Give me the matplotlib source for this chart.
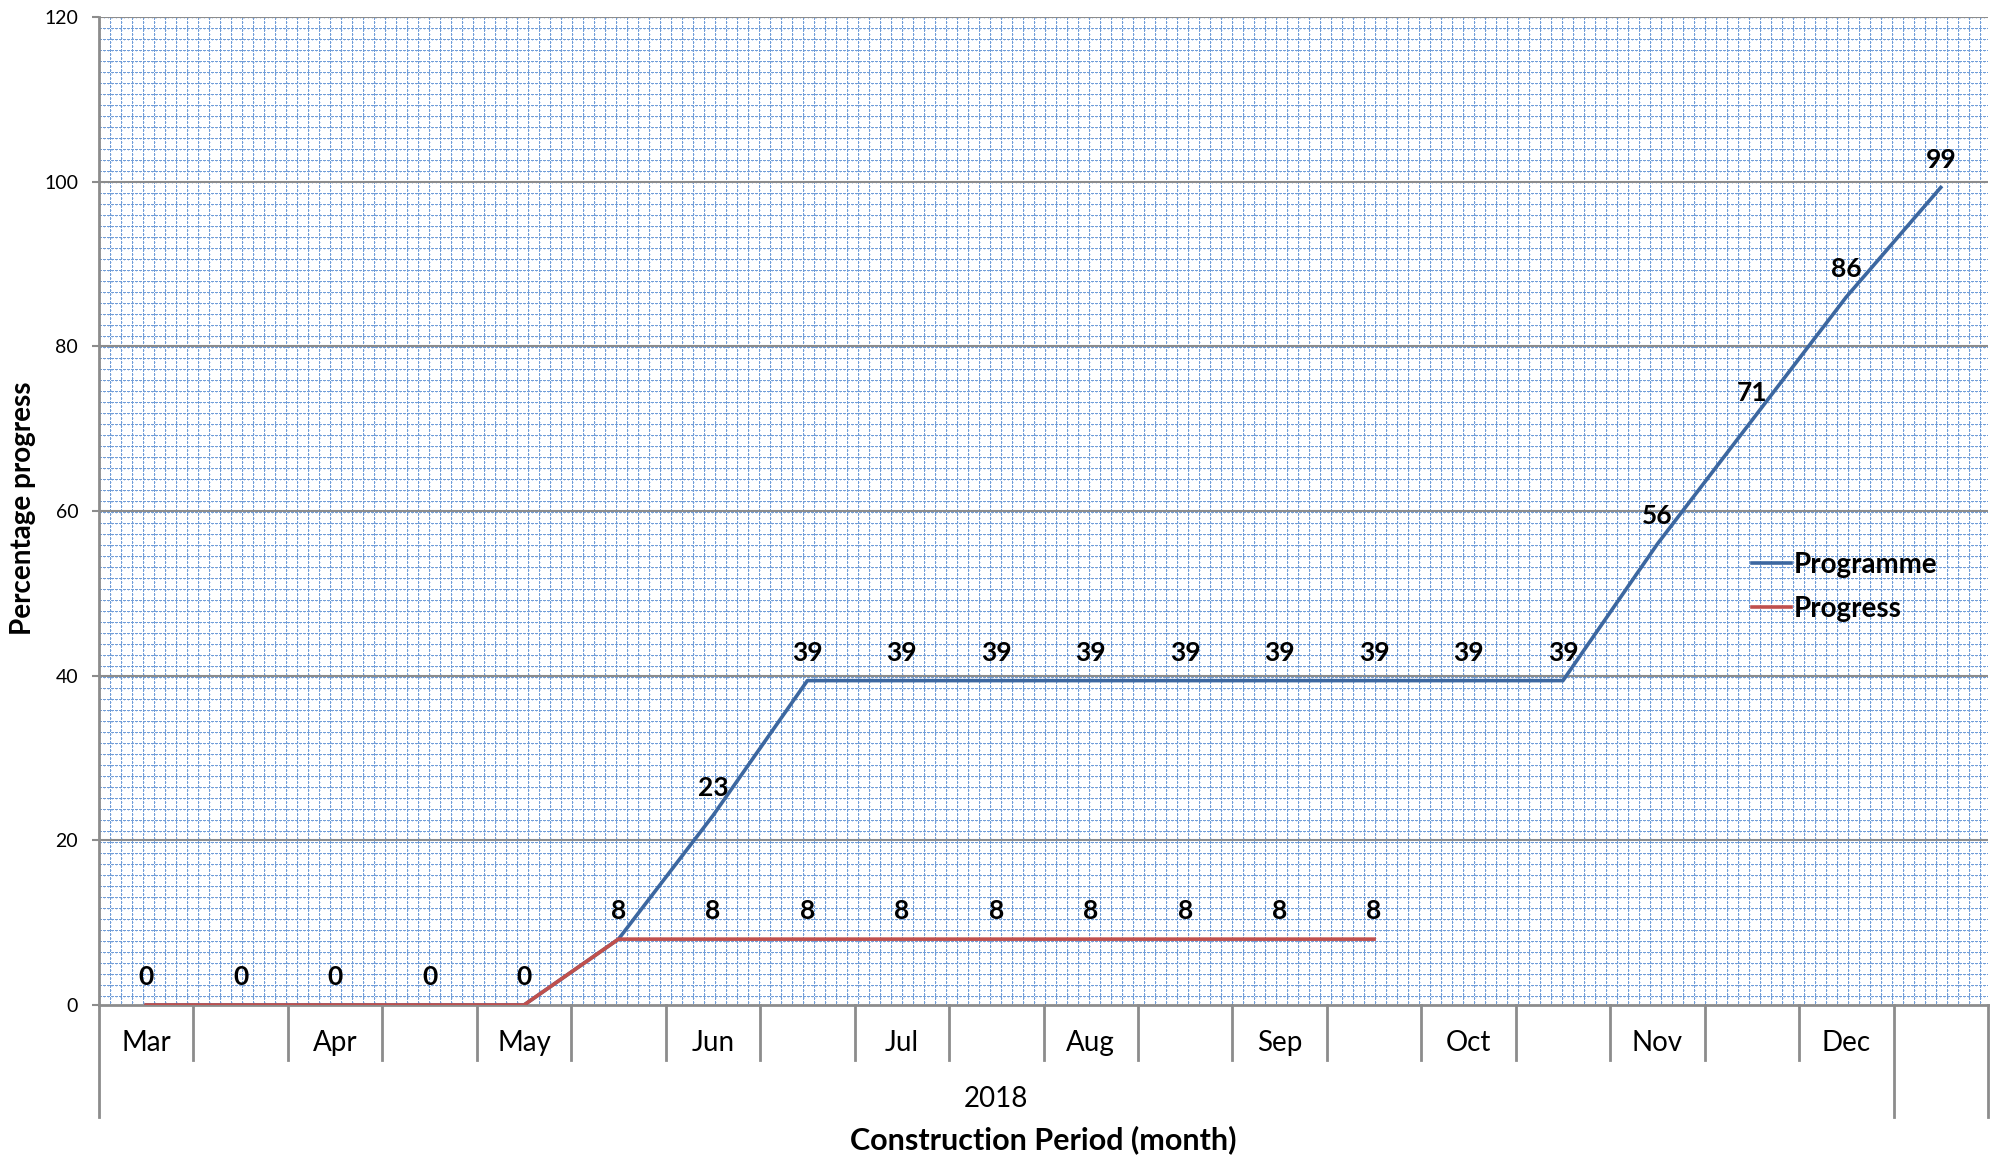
import numpy as np
import matplotlib
matplotlib.use('Agg')
import matplotlib.pyplot as plt
import matplotlib.transforms as mtransforms

plt.rcParams['font.family'] = ['Lato', 'DejaVu Sans']

# data
months = ['Mar', '', 'Apr', '', 'May', '', 'Jun', '', 'Jul', '', 'Aug', '', 'Sep', '', 'Oct', '', 'Nov', '', 'Dec', '']
year = '2018'
programme = [0, 0, 0, 0, 0, 8, 23, 39.4, 39.4, 39.4, 39.4, 39.4, 39.4, 39.4, 39.4, 39.4, 56, 71, 86, 99.3]
progress = [0, 0, 0, 0, 0, 8, 8, 8, 8, 8, 8, 8, 8, 8]
yticks = [0, 20, 40, 60, 80, 100, 120]

blue = '#3C67A0'
red = '#C0504D'
grey = '#8C8C8C'

W, H = 1991, 1162
fig = plt.figure(figsize=(W / 100, H / 100), dpi=100)
L, R, T, B = 99, 1988, 17, 1005
ax = fig.add_axes([L / W, (H - B) / H, (R - L) / W, (B - T) / H])

# small grid pattern fill of the plot area
pw, ph = R - L, B - T
img = np.ones((ph, pw, 4))
yy, xx = np.mgrid[0:ph, 0:pw]
c1 = np.array([0.45, 0.62, 0.85, 1.0])
c2 = np.array([0.80, 0.87, 0.96, 1.0])
light = (((yy % 11 == 1) & (xx % 4 == 1)) | ((xx % 11 == 1) & (yy % 4 == 1)))
strong = (((yy % 11 == 0) & (xx % 4 != 3)) | ((xx % 11 == 0) & (yy % 4 != 3)))
img[light] = c2
img[strong] = c1
ax.imshow(img, extent=(0, 1, 0, 1), transform=ax.transAxes, aspect='auto',
          interpolation='nearest', zorder=0)

x = np.arange(len(months))
ax.set_xlim(-0.5, len(months) - 0.5)
ax.set_ylim(0, 120)

for v in yticks[1:]:
    ax.axhline(v, color=grey, lw=1.5, zorder=1)

ax.plot(x[:len(programme)], programme, color=blue, lw=2.6, label='Programme', zorder=3)
ax.plot(x[:len(progress)], progress, color=red, lw=2.6, label='Progress', zorder=4)

for i, v in enumerate(programme):
    ax.annotate('{:.0f}'.format(v), (x[i], v), xytext=(0, 20), textcoords='offset points',
                ha='center', va='center', fontsize=19, fontweight='bold', zorder=5)
for i, v in enumerate(progress):
    if v != programme[i]:
        ax.annotate('{:.0f}'.format(v), (x[i], v), xytext=(0, 20), textcoords='offset points',
                    ha='center', va='center', fontsize=19, fontweight='bold', zorder=5)

ax.set_yticks(yticks)
ax.tick_params(axis='y', direction='out', length=5, width=1.5, color=grey, labelsize=14, pad=10)
ax.set_xticks([])
for s in ['top', 'right']:
    ax.spines[s].set_visible(False)
for s in ['left', 'bottom']:
    ax.spines[s].set_color(grey)
    ax.spines[s].set_linewidth(2)

# multi-level category axis
trans = mtransforms.blended_transform_factory(ax.transData, ax.transAxes)
row1 = -(1060 - B) / (B - T)
row2 = -(1117 - B) / (B - T)
for k in range(len(months) - 1):
    bottom = row2 if k == len(months) - 2 else row1
    ax.plot([k + 0.5, k + 0.5], [0, bottom], color=grey, lw=2, transform=trans, clip_on=False)
ax.plot([-0.5, -0.5], [0, row2], color=grey, lw=2, transform=trans, clip_on=False)
ax.plot([len(months) - 0.5] * 2, [0, row2], color=grey, lw=2, transform=trans, clip_on=False)
for i, m in enumerate(months):
    ax.text(x[i], -(1043 - B) / (B - T), m, transform=trans, ha='center', va='center', fontsize=20)
ax.text((len(months) - 2) / 2, -(1099 - B) / (B - T), year, transform=trans,
        ha='center', va='center', fontsize=20)

ax.text(0.5, -(1140 - B) / (B - T), 'Construction Period (month)', transform=ax.transAxes,
        ha='center', va='center', fontsize=22, fontweight='bold')
fig.text(23 / W, 1 - 508 / H, 'Percentage progress', rotation=90, ha='center', va='center',
         fontsize=20, fontweight='bold')

ax.legend(loc='center left', bbox_to_anchor=((1752 - L) / (R - L), (B - 587) / (B - T)),
          frameon=False, prop={'weight': 'bold', 'size': 20},
          handlelength=1.4, handletextpad=0.1, labelspacing=0.65, borderpad=0, borderaxespad=0)

fig.savefig('out.png', dpi=100)
